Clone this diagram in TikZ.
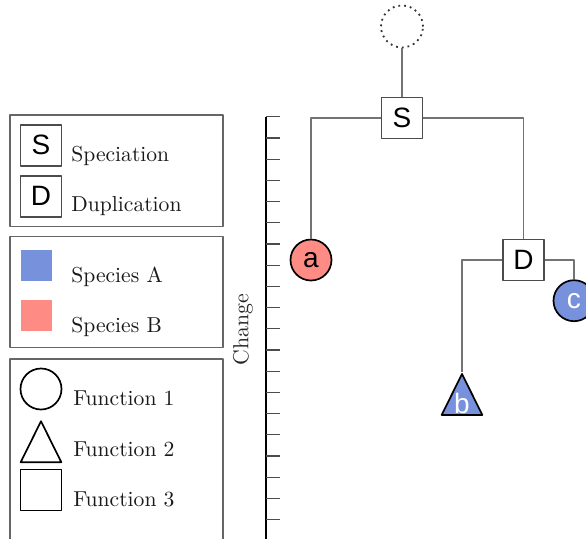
\documentclass[tikz,border=0pt]{standalone}
\usepackage{fontspec}
\newfontfamily\nodefont{Liberation Sans}
\usetikzlibrary{shapes.geometric,positioning}
\definecolor{speciesA}{RGB}{120,145,220}
\definecolor{speciesB}{RGB}{255,140,132}

\begin{document}
\begin{tikzpicture}[line join=round,x=0.5pt,y=-0.5pt,
  every node/.style={inner sep=0pt},
  branch/.style={draw=black!55,line width=0.65pt},
  event/.style={rectangle,draw=black!70,fill=white,line width=0.75pt,minimum size=20.5pt,
    font=\nodefont\fontsize{14}{14}\selectfont},
  gene/.style={circle,draw=black,line width=0.85pt,minimum size=20.5pt,
    font=\nodefont\fontsize{14}{14}\selectfont},
  tri/.style={isosceles triangle,isosceles triangle stretches,shape border rotate=90,
    minimum width=20.3pt,minimum height=20.5pt,draw=black,line width=0.85pt,
    font=\nodefont\fontsize{14}{14}\selectfont},
  legbox/.style={draw=black!60,line width=0.6pt},
  legtext/.style={anchor=base west,text=black!90,font=\fontsize{10.8}{13}\selectfont},
  tick/.style={draw=black!70,line width=0.6pt}]

\useasboundingbox (0,0) rectangle (586,538);

%% legend
\draw [legbox] (10,115) rectangle (223,226.7);
\draw [legbox] (10,236.7) rectangle (223,347.3);
\draw [legbox] (10,359) rectangle (223,560);

\node [event] (legS) at (41,145.3) {S};
\node [event] (legD) at (41,196.3) {D};
\node [legtext] (spec) at (71,161) {Speciation};
\node [legtext] (dupl) at (71,211) {Duplication};

\node [fill=speciesA,minimum size=15.5pt] (legA) at (36.2,265) {};
\node [fill=speciesB,minimum size=15.5pt] (legB) at (36.2,315.3) {};
\node [legtext] (specA) at (71,282.7) {Species A};
\node [legtext] (specB) at (71,332) {Species B};

\node [gene] (legF1) at (41,389) {};
\node [tri,anchor=apex] (legF2) at (41,419) {};
\node [event,draw=black,line width=0.85pt] (legF3) at (41,490) {};
\node [legtext] (func1) at (73,405) {Function 1};
\node [legtext] (func2) at (73,456) {Function 2};
\node [legtext] (func3) at (73,506.7) {Function 3};

%% axis
\draw [line width=0.75pt] (266,116.7) -- (266,545);
\foreach \i in {0,...,19}
  \draw [tick] (266,{116.7+21.2*\i}) -- (280,{116.7+21.2*\i});
\node [rotate=90,text=black!85,font=\fontsize{10.9}{13}\selectfont] (change) at (243,330) {Change};

%% tree
\node [circle,draw=black!80,dotted,line width=0.9pt,minimum size=21pt] (root) at (402,26.5) {};
\node [event] (S) at (402,118) {S};
\node [gene,fill=speciesB] (a) at (311,260) {a};
\node [event] (D) at (523.5,260) {D};
\node [gene,fill=speciesA,text=white] (c) at (574,300.7) {c};
\node [tri,fill=speciesA,text=white,anchor=apex] (b) at (462,371.7) {b};

\draw [branch] (root) -- (S);
\draw [branch] (S) -| (a);
\draw [branch] (S) -| (D);
\draw [branch] (D) -| (b.apex);
\draw [branch] (D) -| (c);
\end{tikzpicture}
\end{document}
